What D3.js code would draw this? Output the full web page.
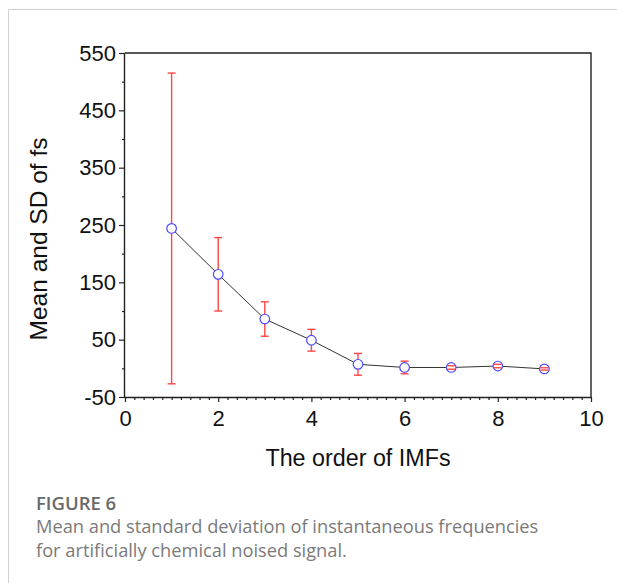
<!DOCTYPE html>
<html>
<head>
<meta charset="utf-8">
<script src="https://cdn.jsdelivr.net/npm/d3@7"></script>
<style>
  body { margin: 0; background: #fff; }
  svg { display: block; }
</style>
</head>
<body>
<script>
// values
const orders = [1, 2, 3, 4, 5, 6, 7, 8, 9];
const means = [244, 164, 86, 49, 7, 1.5, 1.5, 4, -1];
const sds = [271, 64, 30, 19, 19, 11, 3, 3, 2];
const yTickValues = [-50, 50, 150, 250, 350, 450, 550];
const xTickValues = [0, 2, 4, 6, 8, 10];

const width = 617, height = 583;
let margin = { top: 53, right: 26, bottom: 186, left: 125 };

let svg = d3.select("body").append("svg")
  .attr("width", width)
  .attr("height", height);

// card border
svg.append("path")
  .attr("d", "M8.5," + height + "V9.5H" + width)
  .attr("fill", "none")
  .attr("stroke", "#d0d0d0")
  .attr("stroke-width", 1);

let x = d3.scaleLinear().domain([0, 10]).range([margin.left, width - margin.right]);
let y = d3.scaleLinear().domain([-50, 550]).range([height - margin.bottom, margin.top]);

let data = orders.map((o, i) => ({ x: o, m: means[i], sd: sds[i] }));
let fmt = d => String(d); // plain hyphen for negatives

// minor ticks
let xMinor = d3.range(0, 10.001, 0.2).filter(v => Math.abs(v / 2 - Math.round(v / 2)) > 0.01);
let yMinor = d3.range(0, 501, 100);

let xAxis = svg.append("g")
  .attr("transform", "translate(0," + y(-50) + ")")
  .call(d3.axisBottom(x).tickValues(xTickValues).tickSize(5).tickPadding(8).tickFormat(fmt));
svg.append("g")
  .attr("transform", "translate(0," + y(-50) + ")")
  .call(d3.axisBottom(x).tickValues(xMinor).tickSize(3).tickFormat(""))
  .call(g => g.select(".domain").remove());

let yAxis = svg.append("g")
  .attr("transform", "translate(" + x(0) + ",0)")
  .call(d3.axisLeft(y).tickValues(yTickValues).tickSize(6).tickPadding(3).tickFormat(fmt));
svg.append("g")
  .attr("transform", "translate(" + x(0) + ",0)")
  .call(d3.axisLeft(y).tickValues(yMinor).tickSize(3).tickFormat(""))
  .call(g => g.select(".domain").remove());

svg.selectAll(".domain").attr("stroke", "#222").attr("stroke-width", 1.4);
xAxis.select(".domain").attr("d", "M" + x(0) + ",0.5H" + x(10));
yAxis.select(".domain").attr("d", "M-0.5," + y(-50) + "V" + y(550));
svg.selectAll(".tick line").attr("stroke", "#222").attr("stroke-width", 1.2);
svg.selectAll(".tick text")
  .attr("fill", "#111")
  .style("font-family", "'Liberation Sans', Arial, sans-serif")
  .style("font-size", "22px");

// top and right frame
svg.append("path")
  .attr("d", "M" + x(0) + "," + y(550) + "H" + x(10) + "V" + y(-50))
  .attr("fill", "none")
  .attr("stroke", "#222")
  .attr("stroke-width", 1.4);

// connecting line
svg.append("path")
  .datum(data)
  .attr("d", d3.line().x(d => x(d.x)).y(d => y(d.m)))
  .attr("fill", "none")
  .attr("stroke", "#333")
  .attr("stroke-width", 1);

// error bars
let errColor = "#ff4646";
svg.selectAll(".err")
  .data(data)
  .enter().append("line")
  .attr("class", "err")
  .attr("x1", d => x(d.x)).attr("x2", d => x(d.x))
  .attr("y1", d => y(d.m + d.sd)).attr("y2", d => y(d.m - d.sd))
  .attr("stroke", errColor)
  .attr("stroke-width", 1.4);

// markers
svg.selectAll(".pt")
  .data(data)
  .enter().append("circle")
  .attr("class", "pt")
  .attr("cx", d => x(d.x))
  .attr("cy", d => y(d.m))
  .attr("r", 4.8)
  .attr("fill", "#fff")
  .attr("stroke", "#4a4aff")
  .attr("stroke-width", 1.2);

// caps
svg.selectAll(".cap")
  .data(data.flatMap(d => [{ x: d.x, v: d.m + d.sd }, { x: d.x, v: d.m - d.sd }]))
  .enter().append("line")
  .attr("class", "cap")
  .attr("x1", d => x(d.x) - 4).attr("x2", d => x(d.x) + 4)
  .attr("y1", d => y(d.v)).attr("y2", d => y(d.v))
  .attr("stroke", errColor)
  .attr("stroke-width", 1.4);

// axis titles
svg.append("text")
  .attr("x", (x(0) + x(10)) / 2)
  .attr("y", 466)
  .attr("text-anchor", "middle")
  .style("font-family", "'Liberation Sans', Arial, sans-serif")
  .style("font-size", "23.3px")
  .attr("fill", "#111")
  .text("The order of IMFs");

svg.append("text")
  .attr("transform", "translate(47," + ((y(-50) + y(550)) / 2 + 14) + ") rotate(-90)")
  .attr("text-anchor", "middle")
  .style("font-family", "'Liberation Sans', Arial, sans-serif")
  .style("font-size", "24.5px")
  .attr("fill", "#111")
  .text("Mean and SD of fs");

// caption
svg.append("text")
  .attr("x", 36).attr("y", 510)
  .style("font-family", "'Open Sans', sans-serif")
  .style("font-size", "18.5px")
  .style("font-weight", 600)
  .attr("fill", "#6a6a6a")
  .text("FIGURE 6");

let caption = ["Mean and standard deviation of instantaneous frequencies",
  "for artificially chemical noised signal."];
svg.selectAll(".cap-text")
  .data(caption)
  .enter().append("text")
  .attr("class", "cap-text")
  .attr("x", 36)
  .attr("y", (d, i) => 533 + i * 24)
  .style("font-family", "'Open Sans', sans-serif")
  .style("font-size", "18.25px")
  .attr("fill", "#7a7a7a")
  .text(d => d);
</script>
</body>
</html>
